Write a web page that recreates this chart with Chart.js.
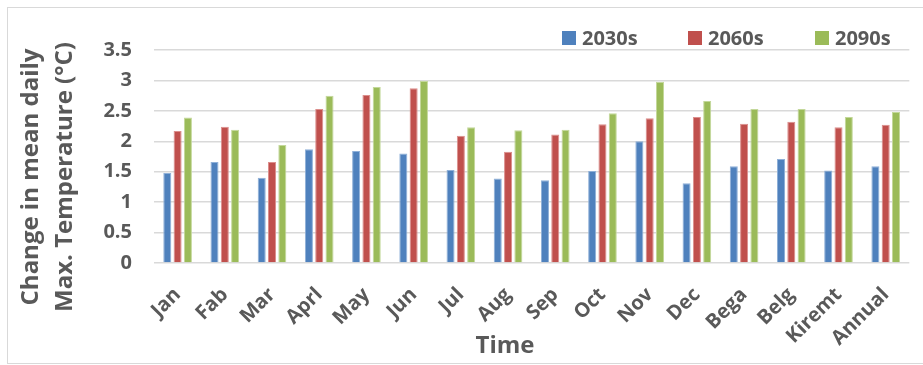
<!DOCTYPE html>
<html>
<head>
<meta charset="utf-8">
<script src="https://cdn.jsdelivr.net/npm/chart.js@4.4.1/dist/chart.umd.min.js"></script>
<style>
  html, body { margin: 0; padding: 0; background: #ffffff; }
  #wrap { width: 923px; height: 365px; position: relative; }
</style>
</head>
<body>
<div id="wrap"><canvas id="c" width="923" height="365"></canvas></div>
<script>
// Periods along the x axis
const categories = ['Jan', 'Fab', 'Mar', 'Aprl', 'May', 'Jun', 'Jul', 'Aug', 'Sep', 'Oct', 'Nov', 'Dec', 'Bega', 'Belg', 'Kiremt', 'Annual'];

// Change in mean daily maximum temperature (°C) per future period
const s2030 = [1.48, 1.66, 1.40, 1.87, 1.84, 1.80, 1.53, 1.39, 1.36, 1.51, 2.00, 1.31, 1.59, 1.71, 1.52, 1.59];
const s2060 = [2.17, 2.24, 1.66, 2.53, 2.76, 2.87, 2.09, 1.83, 2.11, 2.28, 2.38, 2.40, 2.29, 2.32, 2.23, 2.27];
const s2090 = [2.39, 2.19, 1.94, 2.75, 2.89, 2.99, 2.23, 2.18, 2.19, 2.46, 2.98, 2.66, 2.53, 2.53, 2.40, 2.48];

const seriesNames = ['2030s', '2060s', '2090s'];
const yTickLabels = ['0', '0.5', '1', '1.5', '2', '2.5', '3', '3.5'];
const yTitle = ['Change in mean daily', 'Max. Temperature (°C)'];
const xTitle = 'Time';

const FONT = '"Open Sans", "DejaVu Sans", sans-serif';
const TEXT = '#595959';
const colors = ['#4F81BD', '#C0504D', '#9BBB59'];
const edges = ['#8fb0d8', '#dc8f8d', '#c3d89a'];

// Frame, axis titles and legend drawn onto the canvas
const decor = {
  id: 'decor',
  beforeDraw(chart) {
    const ctx = chart.ctx;
    ctx.save();
    ctx.fillStyle = '#ffffff';
    ctx.fillRect(0, 0, chart.width, chart.height);
    ctx.strokeStyle = '#d9d9d9';
    ctx.lineWidth = 1;
    ctx.strokeRect(7.5, 7.5, chart.width + 10, chart.height - 9);
    ctx.restore();
  },
  afterDraw(chart) {
    const ctx = chart.ctx;
    ctx.save();
    ctx.fillStyle = TEXT;
    ctx.font = 'bold 24px ' + FONT;
    // y axis title, two rotated lines
    ctx.textAlign = 'center';
    ctx.textBaseline = 'alphabetic';
    const cy = 177;
    [38, 72].forEach((bx, i) => {
      ctx.save();
      ctx.translate(bx, cy);
      ctx.rotate(-Math.PI / 2);
      ctx.fillText(yTitle[i], 0, 0);
      ctx.restore();
    });
    // x axis title
    ctx.fillText(xTitle, 505, 353);
    // legend
    ctx.font = 'bold 20px ' + FONT;
    ctx.textAlign = 'left';
    const lx = [562, 688, 815];
    chart.data.datasets.forEach((ds, i) => {
      ctx.fillStyle = ds.backgroundColor;
      ctx.fillRect(lx[i], 31, 14, 14);
      ctx.fillStyle = TEXT;
      ctx.fillText(ds.label, lx[i] + 20, 45);
    });
    ctx.restore();
  }
};

const datasets = [s2030, s2060, s2090].map((vals, i) => ({
  label: seriesNames[i],
  data: vals,
  backgroundColor: colors[i],
  borderColor: edges[i],
  borderWidth: 1,
  categoryPercentage: 0.655,
  barPercentage: 0.78
}));

new Chart(document.getElementById('c'), {
  type: 'bar',
  data: { labels: categories, datasets },
  plugins: [decor],
  options: {
    responsive: false,
    animation: false,
    layout: { padding: { top: 50, right: 10, left: 0, bottom: 0 } },
    plugins: { legend: { display: false }, tooltip: { enabled: false } },
    scales: {
      x: {
        grid: { display: false, drawTicks: false },
        border: { display: false },
        ticks: {
          autoSkip: false,
          maxRotation: 45,
          minRotation: 45,
          padding: 20,
          color: TEXT,
          font: { family: FONT, size: 20, weight: 'bold' }
        },
        afterFit(scale) { scale.height = 102; }
      },
      y: {
        min: 0,
        max: 3.5,
        grid: { color: '#d9d9d9', lineWidth: 1.5, drawTicks: false },
        border: { display: false },
        ticks: {
          stepSize: 0.5,
          padding: 22,
          color: TEXT,
          font: { family: FONT, size: 20, weight: 'bold' },
          callback: (v, i) => yTickLabels[i]
        },
        afterFit(scale) { scale.width = 154; }
      }
    }
  }
});
</script>
</body>
</html>
